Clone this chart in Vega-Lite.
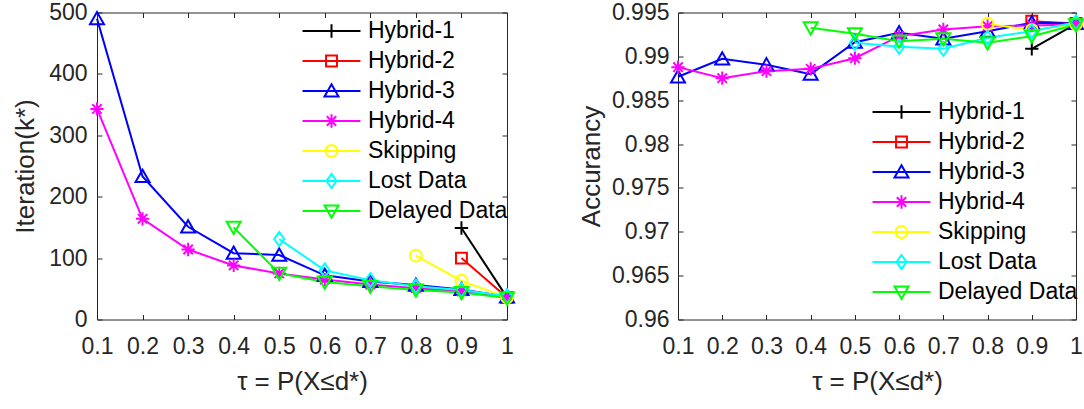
{
  "$schema": "https://vega.github.io/schema/vega-lite/v6.json",
  "padding": {"left": 12, "top": 1.5, "right": 0, "bottom": 0},
  "background": "white",
  "config": {
    "font": "Liberation Sans",
    "view": {"stroke": null},
    "axis": {
      "grid": false,
      "domainColor": "#262626",
      "domainWidth": 1,
      "tickColor": "#262626",
      "tickWidth": 1,
      "labelColor": "#262626",
      "labelFont": "Liberation Sans",
      "labelFontSize": 23,
      "titleFont": "Liberation Sans",
      "titleFontSize": 26,
      "titleFontWeight": "normal",
      "titleColor": "#262626",
      "labelOverlap": false,
      "labelFlush": false
    }
  },
  "datasets": {
    "iter": [
      {"series": "Hybrid-1", "tau": 0.9, "value": 149},
      {"series": "Hybrid-1", "tau": 1.0, "value": 36},
      {"series": "Hybrid-2", "tau": 0.9, "value": 100},
      {"series": "Hybrid-2", "tau": 1.0, "value": 36},
      {"series": "Hybrid-3", "tau": 0.1, "value": 490},
      {"series": "Hybrid-3", "tau": 0.2, "value": 233},
      {"series": "Hybrid-3", "tau": 0.3, "value": 151},
      {"series": "Hybrid-3", "tau": 0.4, "value": 108},
      {"series": "Hybrid-3", "tau": 0.5, "value": 105},
      {"series": "Hybrid-3", "tau": 0.6, "value": 72},
      {"series": "Hybrid-3", "tau": 0.7, "value": 62},
      {"series": "Hybrid-3", "tau": 0.8, "value": 56},
      {"series": "Hybrid-3", "tau": 0.9, "value": 49},
      {"series": "Hybrid-3", "tau": 1.0, "value": 37},
      {"series": "Hybrid-4", "tau": 0.1, "value": 343},
      {"series": "Hybrid-4", "tau": 0.2, "value": 164},
      {"series": "Hybrid-4", "tau": 0.3, "value": 114},
      {"series": "Hybrid-4", "tau": 0.4, "value": 88},
      {"series": "Hybrid-4", "tau": 0.5, "value": 75},
      {"series": "Hybrid-4", "tau": 0.6, "value": 65},
      {"series": "Hybrid-4", "tau": 0.7, "value": 57},
      {"series": "Hybrid-4", "tau": 0.8, "value": 51},
      {"series": "Hybrid-4", "tau": 0.9, "value": 46},
      {"series": "Hybrid-4", "tau": 1.0, "value": 36},
      {"series": "Skipping", "tau": 0.8, "value": 104},
      {"series": "Skipping", "tau": 0.9, "value": 63},
      {"series": "Skipping", "tau": 1.0, "value": 36},
      {"series": "Lost Data", "tau": 0.5, "value": 131},
      {"series": "Lost Data", "tau": 0.6, "value": 80},
      {"series": "Lost Data", "tau": 0.7, "value": 64},
      {"series": "Lost Data", "tau": 0.8, "value": 54},
      {"series": "Lost Data", "tau": 0.9, "value": 48},
      {"series": "Lost Data", "tau": 1.0, "value": 38},
      {"series": "Delayed Data", "tau": 0.4, "value": 150},
      {"series": "Delayed Data", "tau": 0.5, "value": 75},
      {"series": "Delayed Data", "tau": 0.6, "value": 61},
      {"series": "Delayed Data", "tau": 0.7, "value": 54},
      {"series": "Delayed Data", "tau": 0.8, "value": 48},
      {"series": "Delayed Data", "tau": 0.9, "value": 44},
      {"series": "Delayed Data", "tau": 1.0, "value": 35}
    ],
    "acc": [
      {"series": "Hybrid-1", "tau": 0.9, "value": 0.99086},
      {"series": "Hybrid-1", "tau": 1.0, "value": 0.99370},
      {"series": "Hybrid-2", "tau": 0.9, "value": 0.99401},
      {"series": "Hybrid-2", "tau": 1.0, "value": 0.99375},
      {"series": "Hybrid-3", "tau": 0.1, "value": 0.98767},
      {"series": "Hybrid-3", "tau": 0.2, "value": 0.98972},
      {"series": "Hybrid-3", "tau": 0.3, "value": 0.98904},
      {"series": "Hybrid-3", "tau": 0.4, "value": 0.98797},
      {"series": "Hybrid-3", "tau": 0.5, "value": 0.99162},
      {"series": "Hybrid-3", "tau": 0.6, "value": 0.99269},
      {"series": "Hybrid-3", "tau": 0.7, "value": 0.99200},
      {"series": "Hybrid-3", "tau": 0.8, "value": 0.99287},
      {"series": "Hybrid-3", "tau": 0.9, "value": 0.99383},
      {"series": "Hybrid-3", "tau": 1.0, "value": 0.99375},
      {"series": "Hybrid-4", "tau": 0.1, "value": 0.98877},
      {"series": "Hybrid-4", "tau": 0.2, "value": 0.98751},
      {"series": "Hybrid-4", "tau": 0.3, "value": 0.98831},
      {"series": "Hybrid-4", "tau": 0.4, "value": 0.98858},
      {"series": "Hybrid-4", "tau": 0.5, "value": 0.98979},
      {"series": "Hybrid-4", "tau": 0.6, "value": 0.99230},
      {"series": "Hybrid-4", "tau": 0.7, "value": 0.99306},
      {"series": "Hybrid-4", "tau": 0.8, "value": 0.99344},
      {"series": "Hybrid-4", "tau": 0.9, "value": 0.99352},
      {"series": "Hybrid-4", "tau": 1.0, "value": 0.99363},
      {"series": "Skipping", "tau": 0.8, "value": 0.99371},
      {"series": "Skipping", "tau": 0.9, "value": 0.99298},
      {"series": "Skipping", "tau": 1.0, "value": 0.99370},
      {"series": "Lost Data", "tau": 0.5, "value": 0.99155},
      {"series": "Lost Data", "tau": 0.6, "value": 0.99109},
      {"series": "Lost Data", "tau": 0.7, "value": 0.99086},
      {"series": "Lost Data", "tau": 0.8, "value": 0.99212},
      {"series": "Lost Data", "tau": 0.9, "value": 0.99287},
      {"series": "Lost Data", "tau": 1.0, "value": 0.99390},
      {"series": "Delayed Data", "tau": 0.4, "value": 0.99326},
      {"series": "Delayed Data", "tau": 0.5, "value": 0.99257},
      {"series": "Delayed Data", "tau": 0.6, "value": 0.99173},
      {"series": "Delayed Data", "tau": 0.7, "value": 0.99200},
      {"series": "Delayed Data", "tau": 0.8, "value": 0.99155},
      {"series": "Delayed Data", "tau": 0.9, "value": 0.99230},
      {"series": "Delayed Data", "tau": 1.0, "value": 0.99360}
    ]
  },
  "spacing": 171,
  "bounds": "flush",
  "resolve": {"legend": {"color": "independent"}},
  "hconcat": [
    {
      "width": 410,
      "height": 307,
      "data": {"name": "iter"},
      "resolve": {"axis": {"x": "independent", "y": "independent"}},
      "layer": [
        {
          "mark": {"type": "line", "strokeWidth": 2},
          "encoding": {
            "x": {"field": "tau", "type": "quantitative",
              "scale": {"domain": [0.1, 1], "nice": false, "zero": false},
              "axis": {"values": [0.1, 0.2, 0.3, 0.4, 0.5, 0.6, 0.7, 0.8, 0.9, 1], "format": "~g", "title": "τ = P(X≤d*)", "tickSize": -5, "labelPadding": 21, "titlePadding": 10}},
            "y": {"field": "value", "type": "quantitative",
              "scale": {"domain": [0, 500], "nice": false},
              "axis": {"values": [0, 100, 200, 300, 400, 500], "title": "Iteration(k*)", "tickSize": -5, "labelPadding": 15, "titlePadding": 10}},
            "color": {"field": "series", "type": "nominal",
              "scale": {"domain": ["Hybrid-1", "Hybrid-2", "Hybrid-3", "Hybrid-4", "Skipping", "Lost Data", "Delayed Data"],
                        "range": ["#000000", "#FF0000", "#0000FF", "#FF00FF", "#FFFF00", "#00FFFF", "#00FF00"]},
              "legend": {
                "orient": "none", "legendX": 223, "legendY": 7, "title": null, "padding": 0,
                "labelFontSize": 23, "labelFont": "Liberation Sans", "labelColor": "#000000", "labelLimit": 300,
                "symbolSize": 196, "symbolStrokeWidth": 2, "rowPadding": 6, "labelOffset": 25,
                "encode": {"symbols": {"update": {
                  "fill": {"value": "transparent"},
                  "strokeWidth": {"value": 2},
                  "opacity": {"value": 1},
                  "shape": {"signal": "datum.value === 'Hybrid-1' ? 'M-4.14,0H4.14M0,-0.95V0.95' : datum.value === 'Hybrid-2' ? 'M-4.14,0H4.14M-0.78,-0.78H0.78V0.78H-0.78Z' : datum.value === 'Hybrid-3' ? 'M-4.14,0H4.14M0,-0.95L1,0.8H-1Z' : datum.value === 'Hybrid-4' ? 'M-4.14,0H4.14M0,-0.95V0.95M-0.67,-0.67L0.67,0.67M-0.67,0.67L0.67,-0.67' : datum.value === 'Skipping' ? 'M-4.14,0H4.14M0.85,0A0.85,0.85,0,1,1,-0.85,0A0.85,0.85,0,1,1,0.85,0Z' : datum.value === 'Lost Data' ? 'M-4.14,0H4.14M0,-1L0.72,0L0,1L-0.72,0Z' : 'M-4.14,0H4.14M0,0.95L1,-0.8H-1Z'"}
                }}}
              }}
          }
        },
        {
          "mark": {"type": "point", "filled": false, "strokeWidth": 2, "size": 196, "opacity": 1},
          "encoding": {
            "x": {"field": "tau", "type": "quantitative",
              "axis": {"orient": "top", "values": [0.1, 0.2, 0.3, 0.4, 0.5, 0.6, 0.7, 0.8, 0.9, 1], "labels": false, "title": null, "tickSize": -5}},
            "y": {"field": "value", "type": "quantitative",
              "axis": {"orient": "right", "values": [0, 100, 200, 300, 400, 500], "labels": false, "title": null, "tickSize": -5}},
            "color": {"field": "series", "type": "nominal"},
            "shape": {"field": "series", "type": "nominal",
              "scale": {"domain": ["Hybrid-1", "Hybrid-2", "Hybrid-3", "Hybrid-4", "Skipping", "Lost Data", "Delayed Data"],
                "range": ["M-0.95,0H0.95M0,-0.95V0.95", "M-0.78,-0.78H0.78V0.78H-0.78Z", "M0,-0.95L1,0.8H-1Z", "M-0.95,0H0.95M0,-0.95V0.95M-0.67,-0.67L0.67,0.67M-0.67,0.67L0.67,-0.67", "M0.85,0A0.85,0.85,0,1,1,-0.85,0A0.85,0.85,0,1,1,0.85,0Z", "M0,-1L0.72,0L0,1L-0.72,0Z", "M0,0.95L1,-0.8H-1Z"]},
              "legend": null}
          }
        }
      ]
    },
    {
      "width": 398,
      "height": 307,
      "data": {"name": "acc"},
      "resolve": {"axis": {"x": "independent", "y": "independent"}},
      "layer": [
        {
          "mark": {"type": "line", "strokeWidth": 2},
          "encoding": {
            "x": {"field": "tau", "type": "quantitative",
              "scale": {"domain": [0.1, 1], "nice": false, "zero": false},
              "axis": {"values": [0.1, 0.2, 0.3, 0.4, 0.5, 0.6, 0.7, 0.8, 0.9, 1], "format": "~g", "title": "τ = P(X≤d*)", "tickSize": -5, "labelPadding": 21, "titlePadding": 10}},
            "y": {"field": "value", "type": "quantitative",
              "scale": {"domain": [0.96, 0.995], "nice": false, "zero": false},
              "axis": {"values": [0.96, 0.965, 0.97, 0.975, 0.98, 0.985, 0.99, 0.995], "format": "~g", "title": "Accurancy", "tickSize": -5, "labelPadding": 14, "titlePadding": 7}},
            "color": {"field": "series", "type": "nominal",
              "scale": {"domain": ["Hybrid-1", "Hybrid-2", "Hybrid-3", "Hybrid-4", "Skipping", "Lost Data", "Delayed Data"],
                        "range": ["#000000", "#FF0000", "#0000FF", "#FF00FF", "#FFFF00", "#00FFFF", "#00FF00"]},
              "legend": {
                "orient": "none", "legendX": 212, "legendY": 88, "title": null, "padding": 0,
                "labelFontSize": 23, "labelFont": "Liberation Sans", "labelColor": "#000000", "labelLimit": 300,
                "symbolSize": 196, "symbolStrokeWidth": 2, "rowPadding": 6, "labelOffset": 25,
                "encode": {"symbols": {"update": {
                  "fill": {"value": "transparent"},
                  "strokeWidth": {"value": 2},
                  "opacity": {"value": 1},
                  "shape": {"signal": "datum.value === 'Hybrid-1' ? 'M-4.14,0H4.14M0,-0.95V0.95' : datum.value === 'Hybrid-2' ? 'M-4.14,0H4.14M-0.78,-0.78H0.78V0.78H-0.78Z' : datum.value === 'Hybrid-3' ? 'M-4.14,0H4.14M0,-0.95L1,0.8H-1Z' : datum.value === 'Hybrid-4' ? 'M-4.14,0H4.14M0,-0.95V0.95M-0.67,-0.67L0.67,0.67M-0.67,0.67L0.67,-0.67' : datum.value === 'Skipping' ? 'M-4.14,0H4.14M0.85,0A0.85,0.85,0,1,1,-0.85,0A0.85,0.85,0,1,1,0.85,0Z' : datum.value === 'Lost Data' ? 'M-4.14,0H4.14M0,-1L0.72,0L0,1L-0.72,0Z' : 'M-4.14,0H4.14M0,0.95L1,-0.8H-1Z'"}
                }}}
              }}
          }
        },
        {
          "mark": {"type": "point", "filled": false, "strokeWidth": 2, "size": 196, "opacity": 1},
          "encoding": {
            "x": {"field": "tau", "type": "quantitative",
              "axis": {"orient": "top", "values": [0.1, 0.2, 0.3, 0.4, 0.5, 0.6, 0.7, 0.8, 0.9, 1], "labels": false, "title": null, "tickSize": -5}},
            "y": {"field": "value", "type": "quantitative",
              "axis": {"orient": "right", "values": [0.96, 0.965, 0.97, 0.975, 0.98, 0.985, 0.99, 0.995], "labels": false, "title": null, "tickSize": -5}},
            "color": {"field": "series", "type": "nominal"},
            "shape": {"field": "series", "type": "nominal",
              "scale": {"domain": ["Hybrid-1", "Hybrid-2", "Hybrid-3", "Hybrid-4", "Skipping", "Lost Data", "Delayed Data"],
                "range": ["M-0.95,0H0.95M0,-0.95V0.95", "M-0.78,-0.78H0.78V0.78H-0.78Z", "M0,-0.95L1,0.8H-1Z", "M-0.95,0H0.95M0,-0.95V0.95M-0.67,-0.67L0.67,0.67M-0.67,0.67L0.67,-0.67", "M0.85,0A0.85,0.85,0,1,1,-0.85,0A0.85,0.85,0,1,1,0.85,0Z", "M0,-1L0.72,0L0,1L-0.72,0Z", "M0,0.95L1,-0.8H-1Z"]},
              "legend": null}
          }
        }
      ]
    }
  ]
}
